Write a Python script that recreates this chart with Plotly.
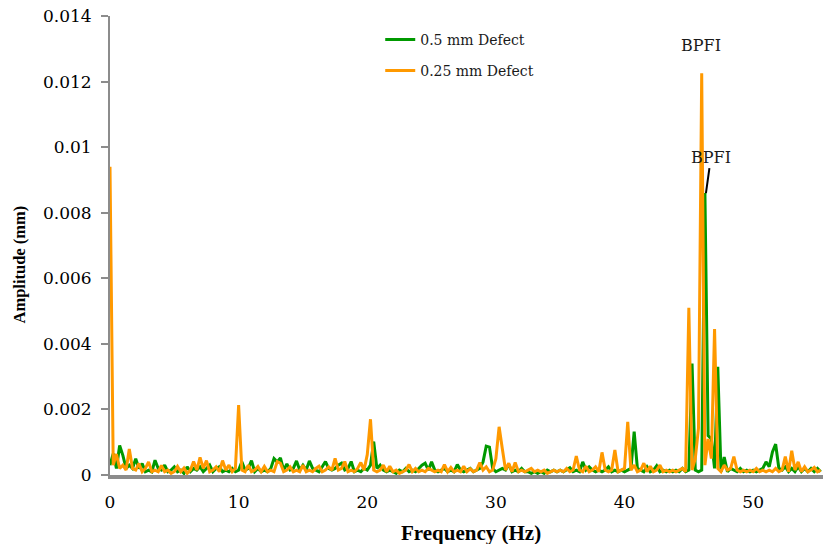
import numpy as np
import plotly.graph_objects as go

# Frequency bins (Hz), 0.25 Hz resolution
freq_step = 0.25
n_bins = 222
freq = np.arange(n_bins) * freq_step

# Amplitudes in units of 1e-4 mm (one row = 5 Hz)
green_e4 = [
    3, 6.5, 2, 9, 6, 2, 3, 2, 5, 2, 3.5, 1, 1.5, 1, 4.5, 2, 1.5, 3, 1, 1.5,
    2.5, 1, 1.5, 0.5, 2.5, 1, 2, 1.5, 2.5, 1, 2, 3, 1, 2, 2.5, 1, 1.5, 1, 2, 1,
    1.5, 4, 1.5, 2, 4.4, 1, 2, 1, 1.5, 1, 2, 5, 4, 5.2, 1.5, 3.4, 1.5, 2, 4.3, 1.5,
    3, 1.5, 4.3, 2, 1.5, 1, 2.5, 4.1, 2, 1.5, 2, 3, 3.6, 1.5, 2, 4.1, 1, 1.5, 1, 2,
    1.5, 3, 10.2, 2, 3, 1.5, 1, 1.5, 1, 0.5, 1.5, 1, 2, 1, 1.5, 1, 2, 3, 3.6, 1.5,
    4, 1.5, 1, 1.5, 2, 1, 1.5, 1, 3.2, 1.5, 1, 1.5, 2, 1, 1.5, 2, 4, 8.8, 8.5, 2,
    1, 1.5, 2, 1.5, 3.2, 1, 1.5, 1, 2, 1, 1, 0.5, 1, 0.5, 1, 0.5, 1.5, 1, 1.5, 1,
    1.5, 1, 1.5, 2.2, 1, 1.5, 1, 4, 1.5, 2.5, 1.5, 1, 1.5, 1, 1.5, 2.5, 1, 1.5, 1, 1.5,
    1, 1.5, 2, 13.2, 2, 1.5, 1, 2.5, 1, 1.5, 2.8, 1, 1.5, 1, 1.5, 1, 1.5, 1, 2, 1,
    1.5, 34, 1.5, 1, 1.5, 86, 12, 11, 2, 33, 1, 5.5, 1, 2, 1.5, 1, 2, 1, 1.5, 1,
    1.5, 1, 1.5, 2, 4, 2.5, 7, 9.4, 2, 1.5, 2.5, 1, 2, 1, 2.5, 1, 2, 1, 2, 1,
    2, 1,
]
orange_e4 = [
    94, 3, 6.4, 2, 3, 1.5, 7.9, 2, 1.5, 3.5, 1, 2, 4, 1, 1.5, 1, 2.9, 1, 1.5, 0.5,
    1, 2.6, 1, 2.1, 0.5, 1.5, 4.1, 1.5, 5.4, 2, 4.4, 1, 1.5, 2.5, 1, 4.4, 1.5, 3, 1, 2,
    21.3, 1.5, 1, 3, 1, 1.5, 2.6, 1, 2.6, 1, 1.5, 1, 4.1, 3.6, 1, 1.5, 2.5, 1, 1.5, 1,
    3, 1, 1.5, 1, 2, 2.7, 1, 1.5, 2.5, 1.5, 5.1, 1.5, 2, 4.1, 1, 1.5, 1, 2, 3.8, 1.5,
    6.2, 17, 1.5, 1, 1.5, 3, 1, 2.7, 1, 1.5, 0.5, 1, 1.5, 3.2, 1, 2, 1, 1.5, 1, 2,
    1.5, 1, 1.5, 1, 3.2, 1, 2.3, 1, 1.5, 1, 2.7, 1, 1.9, 1, 1.5, 3.8, 1.5, 2.5, 1, 1.5,
    5, 14.7, 8, 1.5, 3.6, 1, 3.8, 1, 1.5, 1, 1.5, 2, 1, 1.5, 1, 1.5, 0.5, 1, 1.5, 1,
    1.5, 1, 2, 1, 1.5, 5.8, 1.5, 1, 2.7, 1, 1.5, 2.5, 1, 6.9, 1.5, 1, 1.5, 7.6, 1, 1.5,
    2, 16.2, 1.5, 3, 1, 1.5, 3.6, 1, 2.7, 1, 1.5, 3, 1, 1.5, 1, 1.5, 1, 1.5, 2, 1,
    51, 1.5, 5, 14.3, 122.5, 3, 11, 5, 44.5, 2, 1, 3, 1.5, 2, 5.6, 1.5, 1, 1.5, 1, 1.5,
    1, 2, 1, 1.5, 1, 1.5, 1, 2, 1, 1.5, 5.6, 1, 7.4, 1.5, 4, 1, 2.5, 1, 1.5, 2.3,
    1, 1.5,
]
green_amp = np.array(green_e4) * 1e-4
orange_amp = np.array(orange_e4) * 1e-4

series_names = ["0.5 mm Defect", "0.25 mm Defect"]
y_ticks = [0, 0.002, 0.004, 0.006, 0.008, 0.01, 0.012, 0.014]
y_tick_text = ["0", "0.002", "0.004", "0.006", "0.008", "0.01", "0.012", "0.014"]
x_ticks = [0, 10, 20, 30, 40, 50]

SERIF = "DejaVu Serif"
TITLE_SERIF = "Liberation Serif"
GREEN = "#009900"
ORANGE = "#FF9900"
AXIS_GRAY = "#8c8c8c"

fig = go.Figure()
fig.add_trace(go.Scatter(x=freq, y=green_amp, mode="lines", name=series_names[0],
                         line=dict(color=GREEN, width=3), legendgroup="a"))
fig.add_trace(go.Scatter(x=freq, y=orange_amp, mode="lines", name=series_names[1],
                         line=dict(color=ORANGE, width=3), legendgroup="b"))

fig.add_annotation(x=45.95, y=0.0131, text="BPFI", showarrow=False,
                   font=dict(family=SERIF, size=16, color="#1a1a1a"))
fig.add_annotation(x=46.33, y=0.0086, text="BPFI", showarrow=True, arrowhead=0,
                   arrowwidth=2, arrowcolor="#000000", ax=5, ay=-36,
                   font=dict(family=SERIF, size=16, color="#1a1a1a"))

# axis titles
fig.add_annotation(xref="paper", yref="paper", x=0.506, y=-0.1264,
                   xanchor="center", yanchor="middle", showarrow=False,
                   text="<b>Frequency (Hz)</b>",
                   font=dict(family=TITLE_SERIF, size=21, color="#000000"))
fig.add_annotation(xref="paper", yref="paper", x=-0.1283, y=0.4575,
                   xanchor="center", yanchor="middle", showarrow=False,
                   textangle=-90, text="<b>Amplitude (mm)</b>",
                   font=dict(family=TITLE_SERIF, size=16.5, color="#000000"))

fig.update_layout(
    width=823, height=544,
    margin=dict(l=110, r=0, t=16, b=69),
    plot_bgcolor="white", paper_bgcolor="white",
    font=dict(family=SERIF, color="#000000"),
    showlegend=True,
    legend=dict(x=0.379, y=0.983, xanchor="left", yanchor="top",
                font=dict(family=SERIF, size=14, color="#1a1a1a"),
                bgcolor="rgba(0,0,0,0)", traceorder="grouped", tracegroupgap=10),
    xaxis=dict(range=[0, 55.43], tickvals=x_ticks, showgrid=False, zeroline=False,
               showline=True, linecolor=AXIS_GRAY, linewidth=4, ticks="",
               ticklabelstandoff=9,
               tickfont=dict(family=SERIF, size=17, color="#000000")),
    yaxis=dict(range=[0, 0.014], tickvals=y_ticks, ticktext=y_tick_text,
               showgrid=False, zeroline=False, showline=True, linecolor=AXIS_GRAY,
               linewidth=2, ticks="outside", ticklen=7, tickwidth=2,
               tickcolor=AXIS_GRAY, ticklabelstandoff=6,
               tickfont=dict(family=SERIF, size=17, color="#000000")),
)

fig.write_html("out.html")
